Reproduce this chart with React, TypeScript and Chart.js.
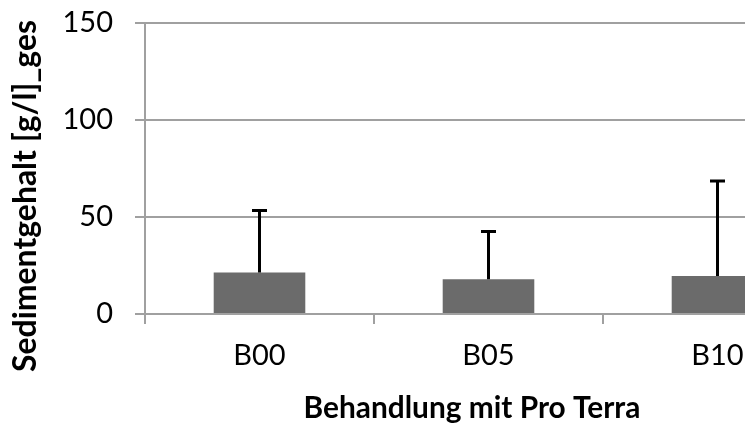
import React, { useEffect, useRef } from "react";
import { Chart, registerables } from "chart.js";

Chart.register(...registerables);

const categories = ["B00", "B05", "B10"];
const means = [21.3, 17.9, 19.6];
const errors = [31.9, 24.5, 48.9];
const yTicks = [0, 50, 100, 150];
const xTitle = "Behandlung mit Pro Terra";
const yTitle = "Sedimentgehalt [g/l]_ges";

const FONT = "Lato, 'Open Sans', sans-serif";

const errorBarPlugin = {
  id: "errorBars",
  afterDatasetsDraw(chart: any) {
    const meta = chart.getDatasetMeta(0);
    const yScale = chart.scales.y;
    const ctx = chart.ctx;
    ctx.save();
    ctx.strokeStyle = "#000";
    ctx.lineWidth = 3;
    meta.data.forEach((bar: any, i: number) => {
      const x = bar.x;
      const yTop = yScale.getPixelForValue(means[i] + errors[i]);
      const yBase = yScale.getPixelForValue(means[i]);
      ctx.beginPath();
      ctx.moveTo(x, yBase);
      ctx.lineTo(x, yTop);
      ctx.moveTo(x - 7.5, yTop);
      ctx.lineTo(x + 7.5, yTop);
      ctx.stroke();
    });
    ctx.restore();
  },
};

function fitFont(ctx: CanvasRenderingContext2D, text: string, width: number) {
  ctx.font = `bold 30px ${FONT}`;
  const w = ctx.measureText(text).width;
  const size = (30 * width) / w;
  ctx.font = `bold ${size}px ${FONT}`;
}

const titlePlugin = {
  id: "axisTitles",
  afterDraw(chart: any) {
    const ctx = chart.ctx;
    ctx.save();
    ctx.fillStyle = "#000";
    ctx.textAlign = "center";
    ctx.textBaseline = "alphabetic";
    fitFont(ctx, xTitle, 337);
    ctx.fillText(xTitle, 472, 418);
    fitFont(ctx, yTitle, 352);
    ctx.translate(36, 196);
    ctx.rotate(-Math.PI / 2);
    ctx.fillText(yTitle, 0, 0);
    ctx.restore();
  },
};

export default function App() {
  const ref = useRef<HTMLCanvasElement>(null);
  useEffect(() => {
    document.body.style.overflow = "hidden";
    const chart = new Chart(ref.current!, {
      type: "bar",
      data: {
        labels: categories,
        datasets: [
          {
            data: means,
            backgroundColor: "#6b6b6b",
            borderWidth: 0,
            barPercentage: 0.4,
            categoryPercentage: 1,
          },
        ],
      },
      options: {
        animation: false,
        responsive: false,
        maintainAspectRatio: false,
        layout: { padding: { top: 0, right: 8, left: 0, bottom: 0 } },
        plugins: { legend: { display: false }, tooltip: { enabled: false } },
        scales: {
          x: {
            grid: {
              drawOnChartArea: false,
              drawTicks: true,
              tickLength: 10,
              color: "#a0a0a0",
              lineWidth: 2,
              offset: true,
            },
            border: { color: "#a0a0a0", width: 2 },
            ticks: { font: { family: FONT, size: 29 }, color: "#000", padding: 14 },
            afterFit: (s: any) => {
              s.height = 114;
            },
          },
          y: {
            min: 0,
            max: 150,
            afterBuildTicks: (s: any) => {
              s.ticks = yTicks.map((v) => ({ value: v }));
            },
            grid: { color: "#a0a0a0", lineWidth: 2, tickLength: 10 },
            border: { color: "#a0a0a0", width: 2 },
            ticks: { font: { family: FONT, size: 29 }, color: "#000", padding: 22 },
            afterFit: (s: any) => {
              s.width = 145;
              s.paddingTop = 22.5;
              s.paddingBottom = 0;
            },
          },
        },
      },
      plugins: [errorBarPlugin, titlePlugin],
    });
    return () => chart.destroy();
  }, []);
  return (
    <div style={{ position: "fixed", left: 0, top: 0, width: 840, height: 428, background: "#fff" }}>
      <canvas ref={ref} width={840} height={428} />
    </div>
  );
}
